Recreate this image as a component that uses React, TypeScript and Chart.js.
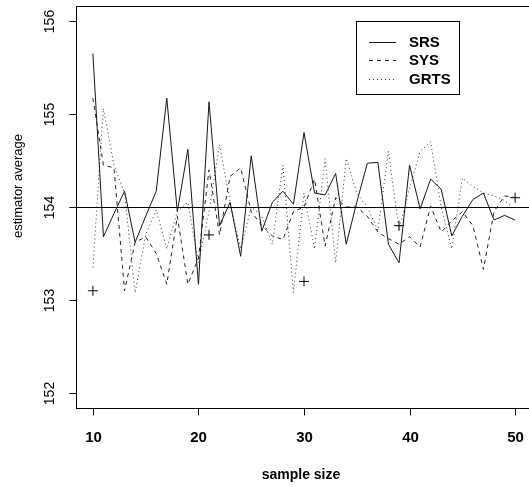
import { useEffect, useRef } from 'react';
import { Chart, registerables } from 'chart.js';

Chart.register(...registerables);

const SAMPLE_SIZES = [10, 11, 12, 13, 14, 15, 16, 17, 18, 19, 20, 21, 22, 23, 24, 25, 26, 27, 28, 29, 30, 31, 32, 33, 34, 35, 36, 37, 38, 39, 40, 41, 42, 43, 44, 45, 46, 47, 48, 49, 50];

const SRS = [155.65, 153.68, 153.93, 154.17, 153.62, 153.9, 154.17, 155.17, 153.95, 154.62, 153.17,
  155.13, 153.8, 154.05, 153.47, 154.55, 153.74, 154.05, 154.17, 154.03, 154.8,
  154.15, 154.13, 154.36, 153.6, 154.05, 154.47, 154.48, 153.6, 153.4, 154.45,
  153.98, 154.3, 154.19, 153.69, 153.9, 154.08, 154.15, 153.86, 153.91, 153.86];

const SYS = [155.17, 154.45, 154.42, 153.1, 153.62, 153.68, 153.5, 153.17, 153.9, 153.17, 153.45,
  154.4, 153.7, 154.33, 154.42, 153.95, 153.8, 153.69, 153.65, 153.95, 154.0,
  154.3, 153.58, 154.1, 154.0, 154.0, 153.9, 153.73, 153.66, 153.6, 153.68,
  153.57, 154.01, 153.73, 153.85, 153.95, 153.8, 153.33, 153.95, 154.12, 154.1];

const GRTS = [153.35, 155.06, 154.45, 154.15, 153.08, 153.7, 153.97, 153.55, 153.95, 154.05, 153.4,
  153.95, 154.67, 154.05, 153.55, 154.0, 153.9, 153.6, 154.45, 153.08, 154.15,
  153.55, 154.52, 153.4, 154.52, 154.15, 154.0, 153.75, 154.6, 153.75, 154.2,
  154.6, 154.7, 154.0, 153.55, 154.31, 154.22, 154.15, 154.12, 154.07, 153.97];

const TRUE_MEAN = 154;
const MARK_X = [10, 21, 30, 39, 50];
const MARK_Y = [153.1, 153.7, 153.2, 153.8, 154.1];
const X_TICKS = [10, 20, 30, 40, 50];
const Y_TICKS = [152, 153, 154, 155, 156];
const SERIES_NAMES = ['SRS', 'SYS', 'GRTS'];
const X_TITLE = 'sample size';
const Y_TITLE = 'estimator average';

const FONT = '"Liberation Sans", Arial, sans-serif';
const W = 545;
const H = 487;

const STYLES = [
  { color: '#151515', dash: [] as number[] },
  { color: '#222222', dash: [4, 4] },
  { color: '#333333', dash: [1, 3] },
];

const decor = {
  id: 'decor',
  afterDraw(chart: any) {
    const { ctx, chartArea: a, scales } = chart;
    const x = scales.x;
    const y = scales.y;
    ctx.save();
    ctx.strokeStyle = '#000';
    ctx.fillStyle = '#000';
    ctx.lineWidth = 1;
    ctx.setLineDash([]);
    const L = Math.round(a.left) + 0.5;
    const T = Math.round(a.top) + 0.5;
    const R = Math.round(a.right) + 0.5;
    const B = Math.round(a.bottom) + 0.5;
    ctx.strokeRect(L, T, R - L, B - T);

    // reference line
    const yy = Math.round(y.getPixelForValue(TRUE_MEAN)) + 0.5;
    ctx.beginPath();
    ctx.moveTo(L, yy);
    ctx.lineTo(R, yy);
    ctx.stroke();

    // x ticks
    ctx.font = `bold 15px ${FONT}`;
    ctx.textAlign = 'center';
    ctx.textBaseline = 'middle';
    X_TICKS.forEach((v) => {
      const px = Math.round(x.getPixelForValue(v)) + 0.5;
      ctx.beginPath();
      ctx.moveTo(px, B);
      ctx.lineTo(px, B + 7);
      ctx.stroke();
      ctx.fillText(String(v), px, 438);
    });

    // y ticks
    ctx.font = `14px ${FONT}`;
    Y_TICKS.forEach((v) => {
      const py = Math.round(y.getPixelForValue(v)) + 0.5;
      ctx.beginPath();
      ctx.moveTo(L - 7, py);
      ctx.lineTo(L, py);
      ctx.stroke();
      ctx.save();
      ctx.translate(50, py);
      ctx.rotate(-Math.PI / 2);
      ctx.fillText(String(v), 0, 0);
      ctx.restore();
    });

    // titles
    ctx.font = `bold 14px ${FONT}`;
    ctx.fillText(X_TITLE, 301, 475);
    ctx.save();
    ctx.font = `13px ${FONT}`;
    ctx.translate(18, 186);
    ctx.rotate(-Math.PI / 2);
    ctx.fillText(Y_TITLE, 0, 0);
    ctx.restore();

    // legend
    ctx.fillStyle = '#fff';
    ctx.fillRect(356, 22, 103, 72);
    ctx.strokeStyle = '#000';
    ctx.strokeRect(356.5, 21.5, 103, 73);
    ctx.font = `bold 15px ${FONT}`;
    ctx.textAlign = 'left';
    ctx.fillStyle = '#000';
    const rows = [41.5, 60, 78.5];
    SERIES_NAMES.forEach((name, i) => {
      const ry = Math.round(rows[i]) + 0.5;
      ctx.strokeStyle = STYLES[i].color;
      ctx.setLineDash(STYLES[i].dash);
      ctx.beginPath();
      ctx.moveTo(369, ry);
      ctx.lineTo(396, ry);
      ctx.stroke();
      ctx.setLineDash([]);
      ctx.fillText(name, 409, ry);
    });
    ctx.restore();
  },
};

export default function App() {
  const ref = useRef<HTMLCanvasElement>(null);
  useEffect(() => {
    document.body.style.margin = '0';
    document.body.style.overflow = 'hidden';
    const series = [SRS, SYS, GRTS];
    const datasets: any[] = series.map((vals, i) => ({
      type: 'line',
      label: SERIES_NAMES[i],
      data: SAMPLE_SIZES.map((s, j) => ({ x: s, y: vals[j] })),
      borderColor: STYLES[i].color,
      borderDash: STYLES[i].dash,
      borderWidth: 1,
      pointRadius: 0,
      tension: 0,
      fill: false,
    }));
    datasets.push({
      type: 'scatter',
      label: 'marks',
      data: MARK_X.map((v, j) => ({ x: v, y: MARK_Y[j] })),
      pointStyle: 'cross',
      pointRadius: 5,
      borderColor: '#000',
      backgroundColor: '#000',
      borderWidth: 1,
      showLine: false,
    });
    const chart = new Chart(ref.current!, {
      type: 'line',
      data: { datasets },
      options: {
        animation: false,
        responsive: false,
        devicePixelRatio: 1,
        layout: { padding: { top: 6, right: W - 532, left: 0, bottom: 0 } },
        plugins: { legend: { display: false }, tooltip: { enabled: false } },
        scales: {
          x: {
            type: 'linear',
            min: 8.4,
            max: 51.6,
            ticks: { display: false },
            grid: { display: false },
            border: { display: false },
            afterFit: (s: any) => { s.height = H - 408; },
          },
          y: {
            type: 'linear',
            min: 151.84,
            max: 156.16,
            ticks: { display: false },
            grid: { display: false },
            border: { display: false },
            afterFit: (s: any) => { s.width = 76; },
          },
        },
      },
      plugins: [decor],
    });
    return () => chart.destroy();
  }, []);
  return (
    <div style={{ width: W, height: H, background: '#fff' }}>
      <canvas ref={ref} width={W} height={H} style={{ width: W, height: H, display: 'block' }} />
    </div>
  );
}
